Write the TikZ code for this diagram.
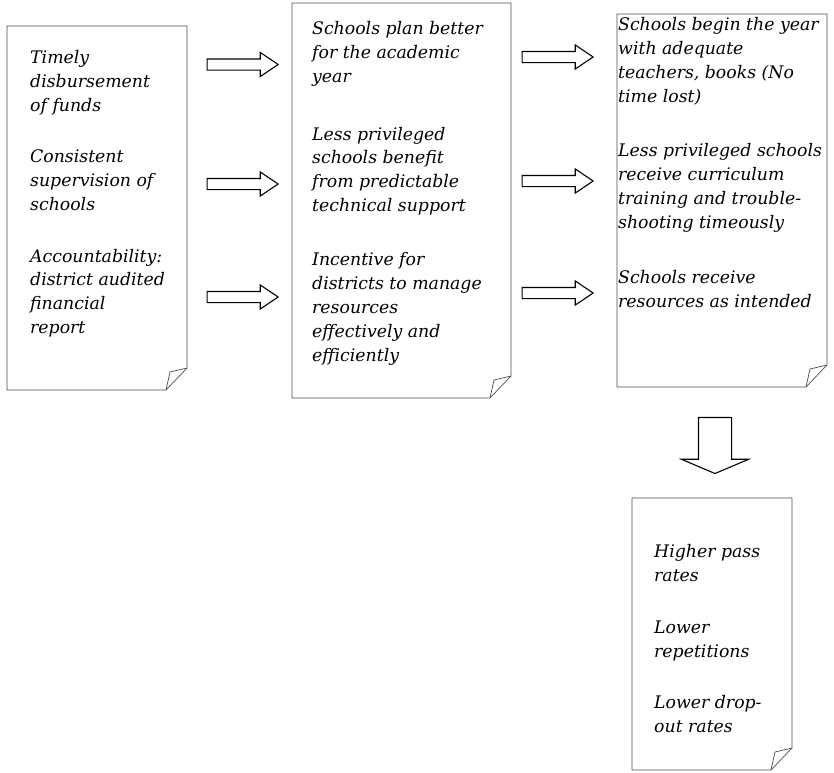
\documentclass[tikz,border=0pt]{standalone}
\usepackage{fontspec}
\setmainfont{DejaVu Serif}
\usetikzlibrary{shapes.arrows,calc}
\newcommand{\foldbox}[1]{%
  \draw[boxline] (#1.north west) -- (#1.north east) -- ([yshift=22pt]#1.south east)
    -- ([xshift=-21pt]#1.south east) -- (#1.south west) -- cycle;
  \draw[boxline] ([yshift=22pt]#1.south east) -- ([xshift=-17pt,yshift=18pt]#1.south east)
    -- ([xshift=-21pt]#1.south east);}
\begin{document}
\begin{tikzpicture}[x=1pt,y=-1pt,
  boxline/.style={draw=black!70,line width=0.7pt,line join=round},
  paper/.style={inner sep=0pt,outer sep=0pt},
  txt/.style={inner sep=0pt,anchor=base west,align=left,
    font=\fontsize{17.3}{23.8}\selectfont\itshape},
  rarrow/.style={single arrow,draw=black,line width=1.1pt,inner xsep=0pt,inner ysep=5pt,
    minimum height=71pt,single arrow head extend=6.5pt,
    single arrow tip angle=68},
  darrow/.style={single arrow,draw=black,line width=1.1pt,inner xsep=0pt,inner ysep=16pt,
    rotate=-90,minimum height=56pt,single arrow head extend=17pt,
    single arrow tip angle=134}
]
\useasboundingbox (0,0) rectangle (834,772);
% boxes
\node[paper,minimum width=180pt,minimum height=364pt] (b1) at (97,208) {};
\node[paper,minimum width=219pt,minimum height=395pt] (b2) at (401.5,200.5) {};
\node[paper,minimum width=210pt,minimum height=373pt] (b3) at (722,200.5) {};
\node[paper,minimum width=160pt,minimum height=272pt] (b4) at (712,634) {};
\foldbox{b1}\foldbox{b2}\foldbox{b3}\foldbox{b4}
% texts (anchored at the baseline of their last line)
\node[txt] (t1a) at (30,111) {Timely\\disbursement\\of funds};
\node[txt] (t1b) at (30,210.5) {Consistent\\supervision of\\schools};
\node[txt] (t1c) at (30,333.5) {Accountability:\\district audited\\financial\\report};
\node[txt] (t2a) at (312,82) {Schools plan better\\for the academic\\year};
\node[txt] (t2b) at (312,211.5) {Less privileged\\schools benefit\\from predictable\\technical support};
\node[txt] (t2c) at (312,361) {Incentive for\\districts to manage\\resources\\effectively and\\efficiently};
\node[txt] (t3a) at (618,102) {Schools begin the year\\with adequate\\teachers, books (No\\time lost)};
\node[txt] (t3b) at (618,228) {Less privileged schools\\receive curriculum\\training and trouble-\\shooting timeously};
\node[txt] (t3c) at (618,307) {Schools receive\\resources as intended};
\node[txt] (t4a) at (654,581) {Higher pass\\rates};
\node[txt] (t4b) at (654,657) {Lower\\repetitions};
\node[txt] (t4c) at (654,732) {Lower drop-\\out rates};
% arrows
\node[rarrow] (a1) at (238.5,64.5) {};
\node[rarrow] (a2) at (238.5,184) {};
\node[rarrow] (a3) at (238.5,297) {};
\node[rarrow] (a4) at (553.5,57) {};
\node[rarrow] (a5) at (553.5,181) {};
\node[rarrow] (a6) at (553.5,293) {};
\node[darrow] (a7) at (715,442) {};
\end{tikzpicture}
\end{document}
